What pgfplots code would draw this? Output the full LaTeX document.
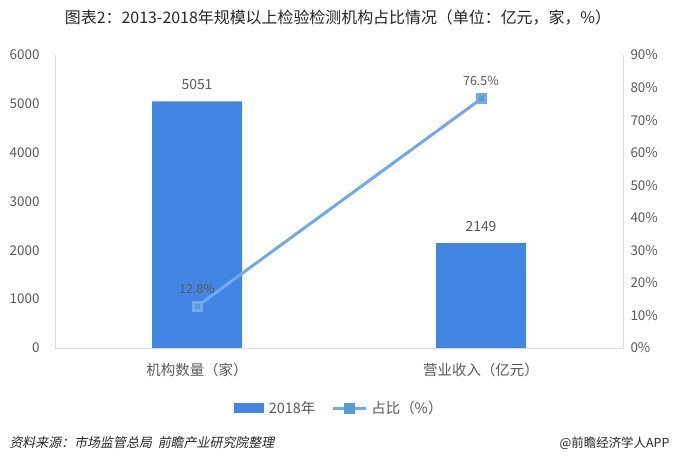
\documentclass[border=0pt]{standalone}
\usepackage{fontspec}
\setmainfont{Noto Sans CJK SC}
\newfontfamily\slfont[FakeSlant=0.2]{Noto Sans CJK SC}
\usepackage{pgfplots}
\pgfplotsset{compat=1.18}
\definecolor{barblue}{HTML}{4285E2}
\definecolor{lineblue}{HTML}{72A9EA}
\definecolor{markblue}{HTML}{5B9BD5}
\definecolor{txt}{HTML}{595959}
\definecolor{axisgray}{HTML}{D9D9D9}
\pgfplotsset{
  /pgf/number format/1000 sep={},
  /pgf/number format/assume math mode=true,
  every axis/.append style={
    scale only axis, width=568bp, height=293bp,
    xmin=-0.5, xmax=1.5,
    tick style={draw=none},
    major tick length=0pt,
    tick label style={font=\fontsize{13.5}{15}\selectfont, text=txt},
  },
}
\begin{document}
\begin{tikzpicture}
\path[use as bounding box] (-55bp,-114bp) rectangle (620bp,348bp);
\begin{axis}[
  at={(0,0)}, anchor=south west,
  axis x line*=bottom, axis y line*=left,
  axis line style={draw=axisgray, line width=0.8bp},
  x axis line style={-}, y axis line style={-},
  ymin=0, ymax=6000, ytick={0,1000,...,6000},
  xtick={0,1}, xticklabels={机构数量（家）,营业收入（亿元）},
  yticklabel style={xshift=-12bp},
  xticklabel style={yshift=-12bp, font=\fontsize{14.5}{16}\selectfont},
  ybar, bar width=90bp,
  nodes near coords,
  every node near coord/.append style={font=\fontsize{14}{16}\selectfont, text=txt, yshift=8bp},
]
\addplot[fill=barblue, draw=none] coordinates {(0,5051) (1,2149)};
\end{axis}
\begin{axis}[
  at={(0,0)}, anchor=south west,
  axis x line=none, axis y line*=right,
  axis line style={draw=axisgray, line width=0.8bp},
  y axis line style={-},
  ymin=0, ymax=90, ytick={0,10,...,90},
  yticklabel={\pgfmathprintnumber{\tick}\%},
  yticklabel style={anchor=west, xshift=4bp},
  legend columns=2,
  legend style={at={(0.5,-0.205)}, anchor=center, draw=none, fill=none,
    font=\fontsize{14.5}{16}\selectfont, text=txt,
    /tikz/every even column/.append style={column sep=14bp}},
]
\addlegendimage{legend image code/.code={\fill[barblue] (0bp,-4.5bp) rectangle (29bp,4.5bp); \path (33bp,0bp);}}
\addlegendentry{2018年}
\addplot[lineblue, line width=3bp, mark=square*, mark size=4bp,
  mark options={fill=markblue, draw=none},
  nodes near coords={\pgfmathprintnumber[fixed,precision=1,fixed zerofill]{\pgfplotspointmeta}\%},
  every node near coord/.append style={font=\fontsize{12.5}{14}\selectfont, text=txt, yshift=8bp},
  legend image code/.code={\draw[lineblue, line width=3bp] (0bp,0bp) -- (33bp,0bp);
    \fill[markblue] (12.5bp,-4bp) rectangle (20.5bp,4bp); \path (35bp,0bp);}]
  coordinates {(0,12.8) (1,76.5)};
\addlegendentry{占比（\%）}
\end{axis}
\node[font=\fontsize{16}{18}\selectfont, text=black!85] at (283bp,330bp) {图表2：2013-2018年规模以上检验检测机构占比情况（单位：亿元，家，\%）};
\node[font=\fontsize{13}{15}\slfont, text=black!85, anchor=west] at (-49bp,-95bp) {资料来源：市场监管总局\ \ 前瞻产业研究院整理};
\node[font=\fontsize{12.5}{14}\selectfont, text=black!85, anchor=east] at (618bp,-95bp) {@前瞻经济学人APP};
\end{tikzpicture}
\end{document}
